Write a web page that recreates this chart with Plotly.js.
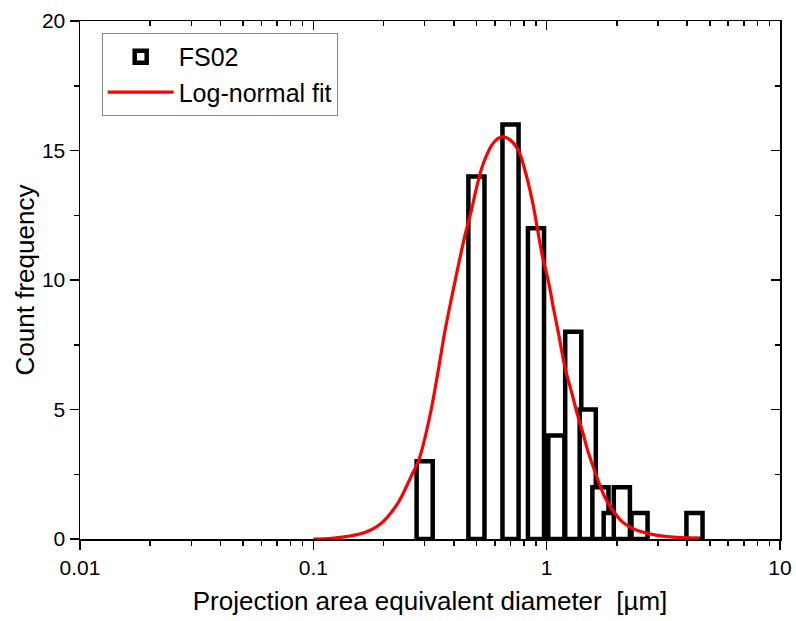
<!DOCTYPE html>
<html>
<head>
<meta charset="utf-8">
<script src="https://cdn.plot.ly/plotly-3.0.1.min.js"></script>
<style>html,body{margin:0;padding:0;background:#fff;}#chart{width:796px;height:621px;}</style>
</head>
<body>
<div id="chart"></div>
<script>
// Histogram bins (bin centres, µm) and counts
const binCenters = [0.3, 0.5, 0.7, 0.9, 1.1, 1.3, 1.5, 1.7, 1.9, 2.1, 2.5, 4.3];
const binCounts  = [3, 14, 16, 12, 4, 8, 5, 2, 1, 2, 1, 1];

// Log-normal fit curve
const fitX = [0.10, 0.12, 0.14, 0.166, 0.195, 0.23, 0.262, 0.283, 0.297, 0.32, 0.343, 0.366, 0.392, 0.418, 0.446, 0.476, 0.50, 0.526, 0.552, 0.581, 0.615, 0.653, 0.70, 0.757, 0.809, 0.866, 0.908, 0.955, 1.02, 1.07, 1.126, 1.20, 1.285, 1.35, 1.419, 1.49, 1.567, 1.67, 1.79, 1.94, 2.11, 2.29, 2.49, 2.94, 3.5, 4.0, 4.5];
const fitY = [0.00, 0.03, 0.10, 0.25, 0.60, 1.38, 2.40, 3.05, 3.70, 5.0, 6.5, 8.0, 9.35, 10.55, 11.7, 12.7, 13.55, 14.3, 14.8, 15.2, 15.45, 15.53, 15.4, 15.0, 14.2, 13.1, 12.1, 11.0, 9.9, 8.9, 7.9, 6.6, 5.6, 4.85, 4.2, 3.5, 2.9, 2.2, 1.55, 1.05, 0.66, 0.45, 0.31, 0.15, 0.07, 0.04, 0.03];

const xTickVals = [0.01, 0.1, 1, 10];
const xTickText = ["0.01", "0.1", "1", "10"];

// constant on-screen bar width in decades
const halfDec = 0.0345;
const barOffset = binCenters.map(c => c * Math.pow(10, -halfDec) - c);
const barWidth = binCenters.map(c => c * (Math.pow(10, halfDec) - Math.pow(10, -halfDec)));

const font = {family: 'Arial, "Liberation Sans", sans-serif', color: '#000'};

const traces = [
  {
    type: 'bar', name: 'FS02',
    x: binCenters, y: binCounts,
    offset: barOffset, width: barWidth,
    marker: {color: '#ffffff', line: {color: '#000000', width: 4.5}},
    hoverinfo: 'x+y'
  },
  {
    type: 'scatter', mode: 'lines', name: 'Log-normal fit',
    x: fitX, y: fitY,
    line: {color: '#ff0000', width: 3.2, shape: 'spline', smoothing: 1}
  },
  {
    type: 'scatter', mode: 'markers', x: [], y: [], xaxis: 'x2', yaxis: 'y2',
    showlegend: false, hoverinfo: 'skip'
  }
];

const layout = {
  width: 796, height: 621,
  margin: {l: 80, r: 16, t: 21, b: 82},
  paper_bgcolor: '#fff', plot_bgcolor: '#fff',
  font: Object.assign({size: 21}, font),
  barmode: 'overlay',
  showlegend: true,
  legend: {
    x: 0.031, y: 0.977, xanchor: 'left', yanchor: 'top',
    bgcolor: '#fff', bordercolor: '#888', borderwidth: 1,
    font: Object.assign({size: 25}, font),
    tracegroupgap: 0, itemwidth: 66
  },
  xaxis: {
    type: 'log', range: [-2, 1],
    tickvals: xTickVals, ticktext: xTickText,
    ticks: 'outside', ticklen: 9, tickwidth: 1.5, tickcolor: '#000',
    minor: {ticks: 'outside', ticklen: 5, tickwidth: 1.5, tickcolor: '#000', dtick: 'D1'},
    showline: true, linecolor: '#000', linewidth: 1.5,
    showgrid: false, zeroline: false,
    tickfont: Object.assign({size: 21}, font),
    title: {text: 'Projection area equivalent diameter  [µm]', font: Object.assign({size: 26}, font), standoff: 14}
  },
  yaxis: {
    range: [0, 20], dtick: 5, tick0: 0,
    ticks: 'outside', ticklen: 9, tickwidth: 1.5, tickcolor: '#000',
    minor: {ticks: 'outside', ticklen: 5, tickwidth: 1.5, tickcolor: '#000', dtick: 2.5},
    showline: true, linecolor: '#000', linewidth: 1.5,
    showgrid: false, zeroline: false,
    tickfont: Object.assign({size: 21}, font),
    title: {text: 'Count frequency', font: Object.assign({size: 26}, font), standoff: 0}
  },
  xaxis2: {
    type: 'log', range: [-2, 1], overlaying: 'x', side: 'top', anchor: 'y2',
    tickvals: xTickVals, showticklabels: false,
    ticks: 'inside', ticklen: 9, tickwidth: 1.5, tickcolor: '#000',
    minor: {ticks: 'inside', ticklen: 5, tickwidth: 1.5, tickcolor: '#000', dtick: 'D1'},
    showline: true, linecolor: '#000', linewidth: 1.5,
    showgrid: false, zeroline: false
  },
  yaxis2: {
    range: [0, 20], dtick: 5, tick0: 0, overlaying: 'y', side: 'right', anchor: 'x2',
    showticklabels: false,
    ticks: 'inside', ticklen: 9, tickwidth: 1.5, tickcolor: '#000',
    minor: {ticks: 'inside', ticklen: 5, tickwidth: 1.5, tickcolor: '#000', dtick: 2.5},
    showline: true, linecolor: '#000', linewidth: 1.5,
    showgrid: false, zeroline: false
  }
};

Plotly.newPlot('chart', traces, layout, {displayModeBar: false, staticPlot: true});
</script>
</body>
</html>
